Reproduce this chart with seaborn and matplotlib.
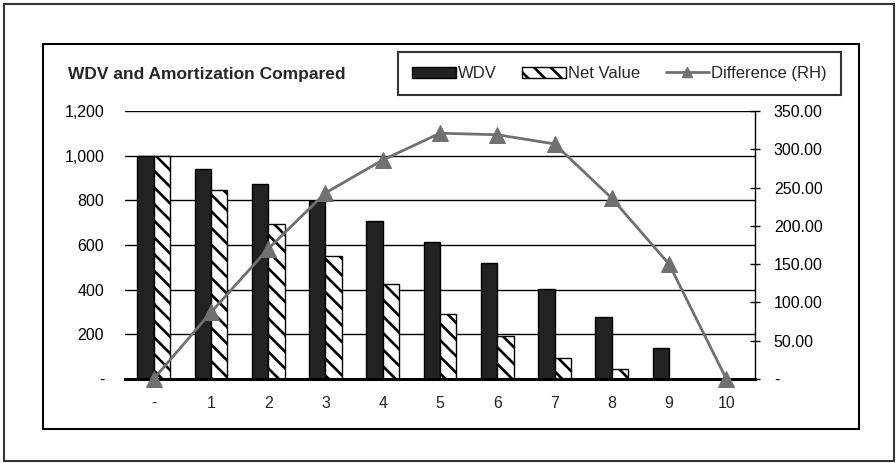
import numpy as np
import pandas as pd
import matplotlib
matplotlib.use("Agg")
import matplotlib.pyplot as plt
from matplotlib.patches import Rectangle, Patch
from matplotlib.lines import Line2D
from matplotlib.ticker import FixedLocator
import seaborn as sns

# ---- data -------------------------------------------------------------
periods = ["-", "1", "2", "3", "4", "5", "6", "7", "8", "9", "10"]
wdv = [1000, 939, 872, 796, 707, 612, 518, 404, 279, 140, 0]
net_value = [1000, 848, 694, 551, 425, 292, 194, 94, 45, 0, 0]
difference = [0, 87, 170, 243, 286, 321, 319, 307, 236, 150, 0]

left_ticks = [0, 200, 400, 600, 800, 1000, 1200]
left_labels = ["-", "200", "400", "600", "800", "1,000", "1,200"]
right_ticks = [0, 50, 100, 150, 200, 250, 300, 350]
right_labels = ["-", "50.00", "100.00", "150.00", "200.00", "250.00", "300.00", "350.00"]

# ---- style ------------------------------------------------------------
sns.set_style("white")
plt.rcParams["font.family"] = ["Liberation Sans", "DejaVu Sans"]
plt.rcParams["font.size"] = 11.5
plt.rcParams["hatch.linewidth"] = 1.9
plt.rcParams["hatch.color"] = "black"

FS = 11.5
W, H = 896, 463
fig = plt.figure(figsize=(W / 100, H / 100), dpi=100, facecolor="white")

def fx(px):
    return px / W

def fy(py):
    return 1 - py / H

# plot area
x0, x1, y_top, y_bot = 125, 755, 111, 379
ax = fig.add_axes([fx(x0), fy(y_bot), fx(x1 - x0), fy(y_top) - fy(y_bot)])
ax.set_facecolor("none")

df = pd.DataFrame({
    "period": periods * 2,
    "value": wdv + net_value,
    "series": ["WDV"] * len(periods) + ["Net Value"] * len(periods),
})

sns.barplot(data=df, x="period", y="value", hue="series", order=periods,
            hue_order=["WDV", "Net Value"], palette=["#222222", "white"],
            width=0.572, gap=0, edgecolor="black", linewidth=1.0,
            saturation=1, legend=False, ax=ax, zorder=2)

for bar in ax.containers[1]:
    bar.set_hatch("\\\\")

ax.set_xlim(-0.5, len(periods) - 0.5)
ax.set_ylim(0, 1200)
ax.set_xlabel("")
ax.set_ylabel("")

ax.yaxis.set_major_locator(FixedLocator(left_ticks))
ax.set_yticklabels(left_labels)
ax.tick_params(axis="y", length=0, pad=15, labelsize=FS, colors="black")
ax.grid(axis="y", color="black", linewidth=1.0)
ax.grid(axis="x", visible=False)
ax.set_axisbelow(True)

# category axis: labels at centres, tick marks on the category boundaries
ax.set_xticks(range(len(periods)))
ax.set_xticklabels(periods)
ax.tick_params(axis="x", which="major", length=0, pad=12, labelsize=FS)
ax.set_xticks(np.arange(-0.5, len(periods), 1.0), minor=True)
ax.tick_params(axis="x", which="minor", direction="out", length=4, width=1.5,
               color="black")

for side in ("left", "right", "top"):
    ax.spines[side].set_visible(False)
ax.spines["bottom"].set_linewidth(2.2)
ax.spines["bottom"].set_color("black")
ax.spines["bottom"].set_zorder(5)

# secondary axis for the difference line
ax2 = ax.twinx()
sns.lineplot(x=np.arange(len(periods)), y=difference, ax=ax2, color="#707070",
             linewidth=2, marker="^", markersize=11, markeredgecolor="#707070",
             markerfacecolor="#707070", clip_on=False, zorder=4)
ax2.set_ylim(0, 350)
ax2.yaxis.set_major_locator(FixedLocator(right_ticks))
ax2.set_yticklabels(right_labels)
ax2.tick_params(axis="y", direction="inout", length=7, width=1.0, pad=10,
                labelsize=FS, colors="black")
ax2.set_ylabel("")
for side in ("left", "top", "bottom"):
    ax2.spines[side].set_visible(False)
ax2.spines["right"].set_color("black")
ax2.spines["right"].set_linewidth(1.0)
ax2.grid(False)
ax2.set_xlim(-0.5, len(periods) - 0.5)

# title
fig.text(fx(68), fy(75), "WDV and Amortization Compared", fontsize=12.5,
         fontweight="bold", ha="left", va="center")

# legend
handles = [
    Patch(facecolor="#222222", edgecolor="black", linewidth=1.0),
    Patch(facecolor="white", edgecolor="black", hatch="\\\\", linewidth=1.0),
    Line2D([0], [0], color="#707070", linewidth=2, marker="^", markersize=7),
]
leg = fig.legend(handles, ["WDV", "Net Value", "Difference (RH)"], ncol=3,
                 loc="upper left", bbox_to_anchor=(fx(398), fy(52)),
                 frameon=True, fancybox=False, shadow=False,
                 fontsize=12, handlelength=2.6, handleheight=0.65,
                 handletextpad=0.12, columnspacing=1.55, borderaxespad=0,
                 borderpad=0.85)
leg.get_frame().set_edgecolor("black")
leg.get_frame().set_linewidth(1.5)

# chart area frame and outer border
fig.patches.append(Rectangle((fx(43), fy(429)), fx(859 - 43), fy(44) - fy(429),
                             transform=fig.transFigure, fill=False,
                             edgecolor="black", linewidth=1.5))
fig.patches.append(Rectangle((fx(4), fy(461)), fx(894 - 4), fy(4) - fy(461),
                             transform=fig.transFigure, fill=False,
                             edgecolor="#333333", linewidth=1.5))

fig.savefig("out.png", dpi=100, facecolor="white")
